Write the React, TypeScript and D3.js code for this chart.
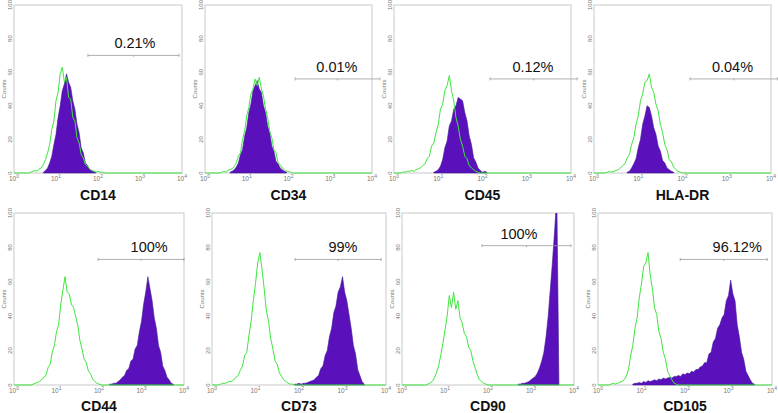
import * as d3 from "d3";

// log10 fluorescence bins, step of 0.05 decade, counts
const BIN = 0.05;

const markers = ["CD14", "CD34", "CD45", "HLA-DR", "CD44", "CD73", "CD90", "CD105"];
const gateLabels = ["0.21%", "0.01%", "0.12%", "0.04%", "100%", "99%", "100%", "96.12%"];
const gateCounts = [70, 56, 56, 56, 73, 73, 81, 73];
const gateFrom = [1.76, 2.16, 2.17, 2.17, 1.98, 1.91, 1.86, 1.89];
const gateTo = [3.93, 4.19, 4.14, 4.15, 4.0, 3.89, 3.93, 3.89];
const gateTextAt = [2.88, 3.16, 3.14, 3.13, 3.18, 3.01, 2.72, 3.2];

const controlFrom = [0.4, 0.4, 0.2, 0.3, 0.45, 0.2, 0.6, 0.3];
const stainFrom = [0.7, 0.6, 0.9, 0.75, 2.25, 1.9, 2.7, 0.8];

const cd14Control = [0.5, 1, 1.5, 1, 2.5, 3, 5, 8, 12, 17, 26, 31, 43, 48, 59, 63, 54, 57, 45, 44, 33, 31, 21, 18, 11, 9, 5, 4, 2.5, 1.5, 1, 0.5, 1, 0.5, 0.5];
const cd14Stain = [0.5, 1.5, 3, 6, 10, 17, 23, 33, 40, 49, 53, 59, 54, 51, 43, 38, 29, 24, 15, 12, 6, 4.5, 2, 1.5, 1, 0.5];
const cd34Control = [0.5, 1, 0.5, 1.5, 2, 2.5, 4, 6, 10, 12, 20, 25, 34, 39, 47, 50, 56, 52, 57, 50, 46, 38, 33, 25, 21, 14, 12, 6, 5, 3, 2, 1, 1, 0.5];
const cd34Stain = [0.5, 1, 2, 3.5, 6, 11, 14, 22, 27, 36, 41, 49, 52, 55, 50, 48, 40, 36, 28, 24, 16, 13, 7, 5.5, 3, 2, 1, 0.5];
const cd45Control = [0.5, 0.5, 1, 1, 1.5, 1, 2, 2.5, 3, 4.5, 5.5, 8.5, 10, 16, 18, 24, 29, 38, 41, 49, 52, 58, 49, 43, 33, 28, 20, 16, 10, 8.5, 4.5, 3, 2, 1, 0.5];
const cd45Stain = [0.5, 1, 2, 4, 8, 15, 19, 28, 31, 38, 40, 45, 44, 43, 36, 31, 22, 17, 9, 6.5, 3, 1.5, 0.5, 1, 0.5];
const hlaControl = [0.5, 1, 0.5, 1, 1.5, 2, 3, 4.5, 5.5, 9, 11, 17, 21, 29, 34, 43, 47, 54, 55, 59, 51, 48, 41, 37, 29, 24, 17, 14, 8, 6.5, 3.5, 2, 1, 0.5];
const hlaStain = [0.5, 1, 3, 5.5, 8.5, 15, 20, 29, 34, 40, 39, 34, 27, 23, 16, 13, 7.5, 6, 3, 2, 1, 0.5];
const cd44Control = [0.5, 1, 1.5, 2, 3, 4.5, 5.5, 10, 12, 19, 23, 31, 35, 47, 55, 63, 54, 53, 47, 45, 40, 35, 26, 21, 15, 13, 8, 6.5, 3.5, 2, 1, 0.5];
const cd44Stain = [0.5, 0.5, 1, 1, 2, 3, 4.5, 5.5, 8.5, 9.5, 14, 15, 21, 23, 31, 37, 47, 54, 63, 56, 49, 39, 33, 23, 19, 11, 8.5, 4.5, 3, 1, 0.5];
const cd73Control = [0.5, 1, 1, 1.5, 2, 2, 3, 4.5, 5.5, 8.5, 11, 17, 19, 29, 37, 49, 59, 71, 77, 67, 56, 43, 37, 27, 21, 14, 12, 7, 5, 3, 2, 1, 0.5, 0.5];
const cd73Stain = [0.5, 0.5, 1, 0.5, 1, 1, 1.5, 2, 2.5, 3, 4.5, 5.5, 9.5, 11, 17, 20, 28, 33, 42, 46, 54, 57, 63, 54, 49, 41, 33, 23, 18, 9, 5.5, 2, 0.5];
const cd90Control = [0.5, 1, 2, 4, 7, 11, 17, 24, 32, 40, 52, 45, 54, 44, 49, 39, 36, 30, 28, 22, 20, 14, 10, 6, 3, 2, 1, 0.5];
const cd90Stain = [0.5, 0.5, 1, 1, 1.5, 2, 3, 4, 5, 7, 10, 14, 19, 28, 40, 56, 72, 90, 110, 0];
const cd105Control = [0.5, 1, 0.5, 1, 1.5, 2, 3, 5, 9, 17, 23, 33, 39, 51, 59, 69, 71, 77, 64, 56, 45, 41, 31, 27, 19, 15, 8, 5.5, 3, 1, 0.5];
const cd105Stain = [0.5, 1, 1, 1.5, 1, 2, 1.5, 2.5, 2, 2.5, 3, 2.5, 3.5, 3, 4, 3.5, 4, 4.5, 4, 5, 5, 5.5, 5, 6.5, 6, 7, 6.5, 8, 7.5, 9, 9, 10.5, 11, 13, 13, 18, 19, 25, 27, 33, 35, 39, 41, 49, 52, 61, 53, 49, 35, 28, 19, 15, 8, 5.5, 3, 1, 0.5];

const controls = [cd14Control, cd34Control, cd45Control, hlaControl, cd44Control, cd73Control, cd90Control, cd105Control];
const stains = [cd14Stain, cd34Stain, cd45Stain, hlaStain, cd44Stain, cd73Stain, cd90Stain, cd105Stain];

const yTicks = [0, 20, 40, 60, 80, 100];
const xDecades = [0, 1, 2, 3, 4];

const FONT = "'Liberation Sans', Arial, sans-serif";
const GREEN = "#3fe63f";
const PURPLE = "#5a10bb";

type Pt = [number, number];

function toPoints(from: number, counts: number[]): Pt[] {
  return counts.map((c, i) => [from + i * BIN, c] as Pt);
}

type Box = { left: number; right: number; top: number; bottom: number };

function Panel({ idx, box }: { idx: number; box: Box }) {
  const x = d3.scaleLog().domain([1, 1e4]).range([box.left, box.right]);
  const y = d3.scaleLinear().domain([0, 100]).range([box.bottom, box.top]);
  const xl = (v: number) => x(Math.pow(10, v));

  const ctrl = toPoints(controlFrom[idx], controls[idx]);
  const ctrlFull: Pt[] = [[0, 0], [controlFrom[idx] - BIN, 0], ...ctrl, [ctrl[ctrl.length - 1][0] + BIN, 0], [4, 0]];
  const stain = toPoints(stainFrom[idx], stains[idx]);

  const area = d3
    .area<Pt>()
    .x((d) => xl(d[0]))
    .y0(y(0))
    .y1((d) => y(d[1]));
  const line = d3
    .line<Pt>()
    .x((d) => xl(d[0]))
    .y((d) => y(d[1]));

  const gy = y(gateCounts[idx]);
  const g0 = xl(gateFrom[idx]);
  const g1 = xl(gateTo[idx]);
  const gm = (g0 + g1) / 2;
  const clipId = `clip-${idx}`;
  const cx = (box.left + box.right) / 2;

  return (
    <g>
      <defs>
        <clipPath id={clipId}>
          <rect x={box.left} y={box.top} width={box.right - box.left} height={box.bottom - box.top + 1} />
        </clipPath>
      </defs>
      <rect x={box.left} y={box.top} width={box.right - box.left} height={box.bottom - box.top} fill="#fff" stroke="#c9c9c9" strokeWidth={1} />
      <g clipPath={`url(#${clipId})`}>
        <path d={area(stain) ?? ""} fill={PURPLE} stroke="#3d1f90" strokeWidth={0.6} strokeLinejoin="round" />
        <path d={line(ctrlFull) ?? ""} fill="none" stroke={GREEN} strokeWidth={1} strokeLinejoin="round" />
      </g>
      {yTicks.map((t) => (
        <text
          key={t}
          transform={`translate(${box.left - 2},${y(t)}) rotate(-90)`}
          textAnchor="middle"
          fontSize={6}
          fill="#777"
          fontFamily={FONT}
        >
          {t}
        </text>
      ))}
      <text
        transform={`translate(${box.left - 8},${(box.top + box.bottom) / 2}) rotate(-90)`}
        textAnchor="middle"
        fontSize={6}
        fill="#777"
        fontFamily={FONT}
      >
        Counts
      </text>
      {xDecades.map((d) => (
        <text key={d} x={xl(d)} y={box.bottom + 8} textAnchor="middle" fontSize={6.5} fill="#777" fontFamily={FONT}>
          10
          <tspan dy={-3} fontSize={5}>
            {d}
          </tspan>
        </text>
      ))}
      <g stroke="#9a9a9a" strokeWidth={0.8}>
        <line x1={g0} x2={g1} y1={gy} y2={gy} />
        <line x1={g0} x2={g0} y1={gy - 1.5} y2={gy + 1.5} />
        <line x1={g1} x2={g1} y1={gy - 1.5} y2={gy + 1.5} />
        <line x1={gm} x2={gm} y1={gy} y2={gy + 1.5} />
      </g>
      <text x={xl(gateTextAt[idx])} y={gy - 7} textAnchor="middle" fontSize={14.5} fill="#111" fontFamily={FONT}>
        {gateLabels[idx]}
      </text>
      <text x={cx} y={box.bottom + (idx < 4 ? 27 : 26)} textAnchor="middle" fontSize={14} fontWeight="bold" fill="#111" fontFamily={FONT}>
        {markers[idx]}
      </text>
    </g>
  );
}

export default function App() {
  const boxes: Box[] = [
    { left: 14, right: 182, top: 5, bottom: 173 },
    { left: 205, right: 372, top: 5, bottom: 173 },
    { left: 394, right: 571, top: 5, bottom: 173 },
    { left: 594, right: 771, top: 5, bottom: 173 },
    { left: 14, right: 184, top: 213, bottom: 385 },
    { left: 212, right: 386, top: 213, bottom: 385 },
    { left: 402, right: 574, top: 213, bottom: 385 },
    { left: 598, right: 772, top: 213, bottom: 385 },
  ];
  return (
    <svg width={778} height={413} style={{ position: "absolute", left: 0, top: 0, background: "#fff" }}>
      <rect width={778} height={413} fill="#fff" />
      {boxes.map((b, i) => (
        <Panel key={i} idx={i} box={b} />
      ))}
    </svg>
  );
}
